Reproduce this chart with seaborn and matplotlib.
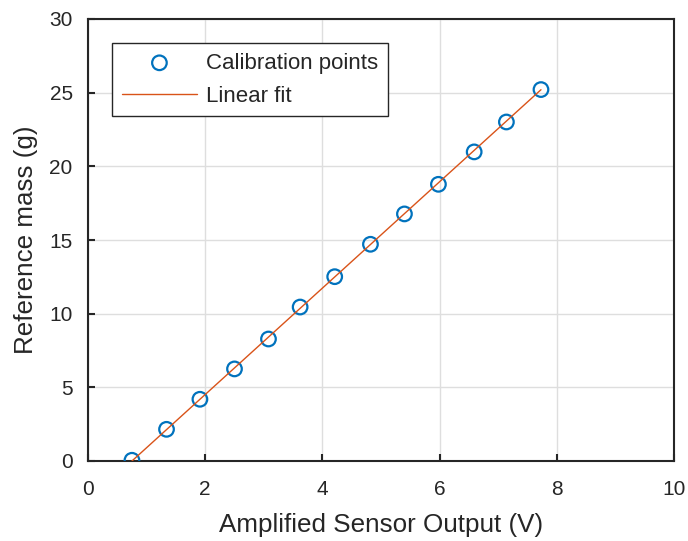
import matplotlib
matplotlib.use("Agg")
import matplotlib.pyplot as plt
import seaborn as sns
import pandas as pd

# calibration data
voltage = [0.75, 1.34, 1.91, 2.50, 3.08, 3.62, 4.21, 4.82, 5.40, 5.98, 6.59, 7.14, 7.73]
mass = [0.05, 2.15, 4.19, 6.25, 8.28, 10.45, 12.51, 14.71, 16.77, 18.78, 20.98, 23.01, 25.21]
fit_voltage = [0.75, 7.73]
fit_mass = [0.0, 25.2]

xticks = [0, 2, 4, 6, 8, 10]
yticks = [0, 5, 10, 15, 20, 25, 30]

sns.set_style("white")
plt.rcParams["font.family"] = ["Liberation Sans", "DejaVu Sans"]

df_pts = pd.DataFrame({"x": voltage, "y": mass})
df_fit = pd.DataFrame({"x": fit_voltage, "y": fit_mass})

fig = plt.figure(figsize=(6.88, 5.41), dpi=100)
ax = fig.add_axes([88 / 688, 1 - 461 / 541, 586 / 688, 442 / 541])

sns.scatterplot(data=df_pts, x="x", y="y", ax=ax, marker="o", s=110,
                facecolors="none", edgecolor="#0072BD", linewidth=1.6,
                label="Calibration points", zorder=3)
sns.lineplot(data=df_fit, x="x", y="y", ax=ax, color="#D95319", linewidth=1.0,
             label="Linear fit", zorder=4)

ax.set_xlim(0, 10)
ax.set_ylim(0, 30)
ax.set_xticks(xticks)
ax.set_yticks(yticks)
ax.grid(True, color="#dedede", linewidth=1.0)
ax.set_axisbelow(True)
for sp in ax.spines.values():
    sp.set_color("#262626")
    sp.set_linewidth(1.5)
ax.tick_params(axis="both", direction="in", length=5, width=1.5, colors="#262626",
               labelsize=15, bottom=True, left=True, top=False, right=False)
ax.tick_params(axis="x", pad=14)
ax.tick_params(axis="y", pad=11)
for lab in ax.get_xticklabels() + ax.get_yticklabels():
    lab.set_color("#262626")

ax.set_xlabel("Amplified Sensor Output (V)", fontsize=18.7, color="#262626", labelpad=10)
ax.set_ylabel("Reference mass (g)", fontsize=18.7, color="#262626", labelpad=8)

leg = ax.legend(loc="upper left", bbox_to_anchor=(0.0415, 0.945), borderaxespad=0,
                fontsize=16, fancybox=False, framealpha=1, edgecolor="#262626",
                handlelength=3.4, handletextpad=0.4, borderpad=0.42, labelspacing=0.55)
leg.get_frame().set_linewidth(1.0)

fig.savefig("out.png", dpi=100)
